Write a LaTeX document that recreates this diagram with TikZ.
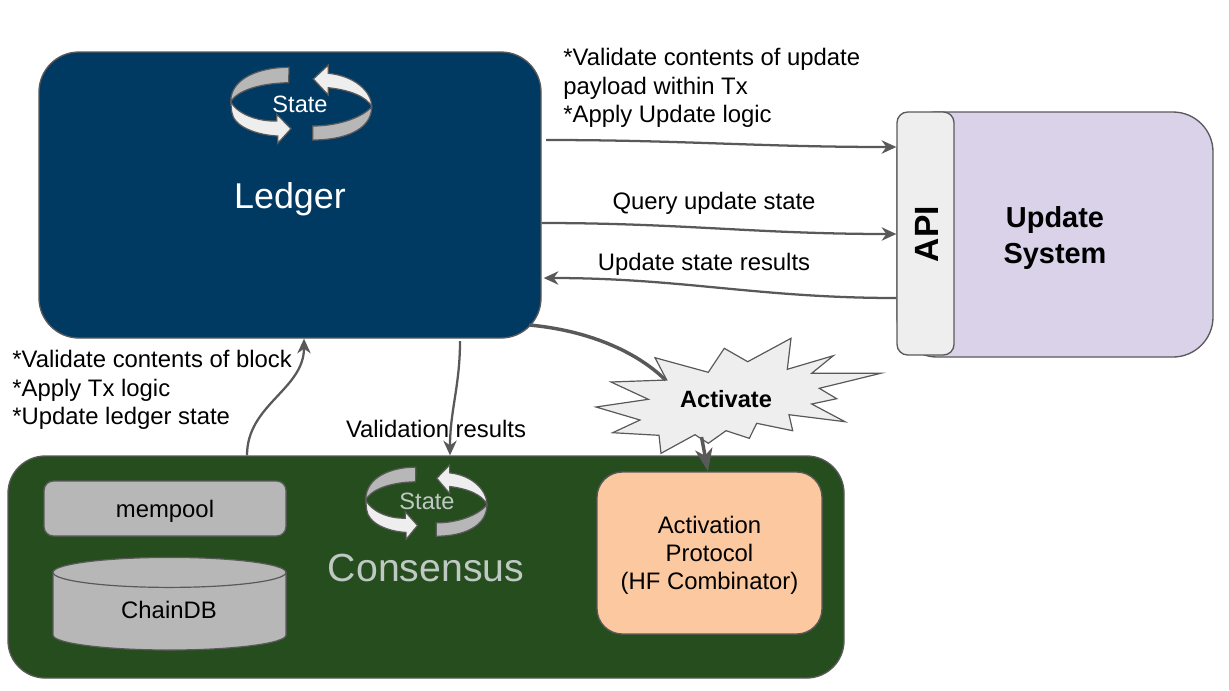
\documentclass[tikz,border=0pt]{standalone}
\usepackage{fontspec}
\setmainfont{Liberation Sans}
\usetikzlibrary{calc}
\usetikzlibrary{positioning}
\usetikzlibrary{arrows.meta}
\definecolor{ledgerBlue}{HTML}{003A63}
\definecolor{consensusGreen}{HTML}{264D1D}
\definecolor{updatePurple}{HTML}{D9D2E9}
\definecolor{protocolPeach}{HTML}{FCC8A0}
\definecolor{boxGray}{HTML}{B7B7B7}
\definecolor{paleGray}{HTML}{EEEEEE}
\definecolor{lineGray}{HTML}{595959}
\definecolor{stateGray}{HTML}{BFC9C4}
\newcommand{\px}{0.75pt}
\newcommand{\bodyfont}{\fontsize{17.9}{21.4}\selectfont}
\tikzset{every picture/.style={semithick, >={Stealth[length=11pt,width=10pt,inset=3.5pt]}}}
\tikzset{
    panel/.style={draw=lineGray, line width=1pt, inner sep=0pt, align=center},
    flow/.style={->, draw=lineGray, line width=1.7pt},
    heavyflow/.style={draw=lineGray, line width=2.6pt},
    lbl/.style={inner sep=0pt, align=left, font=\bodyfont},
    stateband/.style={draw=lineGray, line width=0.9pt},
    statecycle/.pic={
        \draw[stateband, fill=boxGray] (-13,36.7) .. controls (-42,36.7) and (-71.3,26) .. (-71.3,2.3)
            .. controls (-65.3,12.3) and (-45.3,20.7) .. (-13.3,21.3) -- cycle;
        \draw[stateband, fill=paleGray] (-71.3,2.3) -- (-70.3,-7.7) .. controls (-68.7,-22.7) and (-45.3,-31) .. (-24.3,-32)
            -- (-24.3,-39.3) -- (-11,-24.7) -- (-25.3,-10.3) -- (-25.3,-17)
            .. controls (-45.3,-17.7) and (-65.3,-9.3) .. (-71.3,2.3) -- cycle;
        \draw[stateband, fill=paleGray] (11.3,25) -- (26.3,39) -- (26.3,30.7)
            .. controls (53,28) and (69.7,12.3) .. (69.7,-2.7)
            .. controls (64.7,7.3) and (48,14) .. (26.3,16.3) -- (26.3,9) -- cycle;
        \draw[stateband, fill=boxGray] (69.7,-2.7) .. controls (69.7,-26) and (42,-36) .. (10.7,-36)
            -- (10.7,-22) .. controls (38,-22) and (61.3,-12.7) .. (69.7,-2.7) -- cycle;
    }
}

\begin{document}
\begin{tikzpicture}[x=\px,y=\px]
    \useasboundingbox (0,0) rectangle (1230,-690);
    \draw[draw=boxGray!70, line width=0.8pt] (1229.5,0) -- (1229.5,-690);

    % update system
    \node[panel, fill=updatePurple, rounded corners=30pt, minimum width=316*\px, minimum height=245*\px] (update) at (1055,-234.5) {};
    \node[inner sep=0pt, align=center, font=\fontsize{21.7}{26.3}\selectfont\bfseries] (updatelabel) at (1055,-238) {Update\\System};
    \node[panel, fill=paleGray, rounded corners=8pt, minimum width=57*\px, minimum height=243*\px] (api) at (925.5,-233.5) {};
    \node[rotate=90, font=\fontsize{25.2}{30}\selectfont\bfseries, inner sep=0pt] (apilabel) at (927,-234) {API};

    % ledger
    \node[panel, fill=ledgerBlue, rounded corners=30pt, minimum width=502*\px, minimum height=286*\px] (ledger) at (290,-195) {};
    \node[text=white, font=\fontsize{26.9}{32}\selectfont, inner sep=0pt] (ledgerlabel) at (290,-199) {Ledger};
    \pic at (302,-104) {statecycle};
    \node[text=white, font=\fontsize{17.7}{21}\selectfont, inner sep=0pt] (ledgerstate) at (300,-104) {State};

    % consensus
    \node[panel, fill=consensusGreen, rounded corners=28pt, minimum width=836*\px, minimum height=222*\px] (consensus) at (426,-567) {};
    \node[panel, fill=boxGray, rounded corners=7pt, minimum width=242*\px, minimum height=55*\px, font=\bodyfont, text depth=0pt] (mempool) at (165,-508.5) {mempool};
    \draw[stateband, fill=boxGray] (53,-572.4) -- (53,-635)
        arc[start angle=180, end angle=360, x radius=116.5, y radius=15] -- (286,-572.4);
    \draw[stateband, fill=boxGray] (169.5,-572.4) ellipse[x radius=116.5, y radius=15];
    \node[font=\bodyfont, inner sep=0pt] (chaindb) at (169,-610) {ChainDB};
    \pic[xscale=0.86, yscale=0.95] at (427,-502) {statecycle};
    \node[text=stateGray, font=\fontsize{17.7}{21}\selectfont, inner sep=0pt] (consensusstate) at (427,-501) {State};
    \node[text=stateGray, font=\fontsize{29.4}{34}\selectfont, inner sep=0pt] (consensuslabel) at (426,-568) {Consensus};
    \node[panel, fill=protocolPeach, rounded corners=19pt, minimum width=225*\px, minimum height=162*\px,
          font=\fontsize{17.9}{21}\selectfont, text depth=0pt] (protocol) at (709.5,-553) {Activation\\Protocol\\(HF Combinator)};

    % activate burst
    \draw[stateband, fill=paleGray] (655,-357.7) -- (708.3,-372.3) -- (724.3,-348.3) -- (747.7,-361.7) -- (791,-338.3)
        -- (787.3,-369.3) -- (833.3,-355.7) -- (811.7,-373.3) -- (880.7,-373.3) -- (819.3,-388.3) -- (836.7,-398.7)
        -- (811.7,-404) -- (845,-421.7) -- (789,-414.7) -- (792.7,-430.7) -- (756.7,-423.3) -- (749.3,-438.3)
        -- (726,-430.7) -- (708.3,-443.3) -- (695,-434.7) -- (661,-453.3) -- (659,-435.3) -- (612.7,-432.7)
        -- (640,-420) -- (596,-407) -- (648.3,-399.3) -- (611,-382) -- (666.7,-380) -- cycle;
    \node[font=\fontsize{17.7}{21}\selectfont\bfseries, inner sep=0pt] (activate) at (726,-399) {Activate};
    \coordinate (burstTop) at (665.5,-380);
    \coordinate (burstBottom) at (701.5,-437);

    % free ends on the ledger side
    \coordinate (ledgerTx) at (546,-140);
    \coordinate (ledgerBurst) at (529,-325);
    \coordinate (ledgerDown) at (460,-341);

    \draw[flow] (ledgerTx) [out=0,in=180] to (api.west |- 0,-147);
    \draw[flow] (ledger.east |- 0,-223) [out=0,in=180] to (api.west |- 0,-234);
    \draw[flow] (api.west |- 0,-298) [out=180,in=0] to ([xshift=1.5pt]ledger.east |- 0,-278);
    \draw[flow] (consensus.north -| 247,0) [out=90,in=-90] to (ledger.south -| 304,0);
    \draw[flow] (ledgerDown) [out=-90,in=90] to (consensus.north -| 450,0);
    \draw[heavyflow] (ledgerBurst) .. controls (585,-330) and (635,-350) .. (burstTop);
    \draw[heavyflow, -{Stealth[length=17pt,width=13pt,inset=5pt]}] (burstBottom) -- (protocol.north -| 708,0);

    % labels
    \node[lbl, anchor=north west] (txnote) at (563,-48) {*Validate contents of update\\payload within Tx\\*Apply Update logic};
    \node[lbl] (querylabel) at (714,-203) {Query update state};
    \node[lbl] (resultslabel) at (704,-264) {Update state results};
    \node[lbl, anchor=north west] (blocknote) at (12,-350) {*Validate contents of block\\*Apply Tx logic\\*Update ledger state};
    \node[lbl] (validationlabel) at (436,-429) {Validation results};
\end{tikzpicture}
\end{document}
